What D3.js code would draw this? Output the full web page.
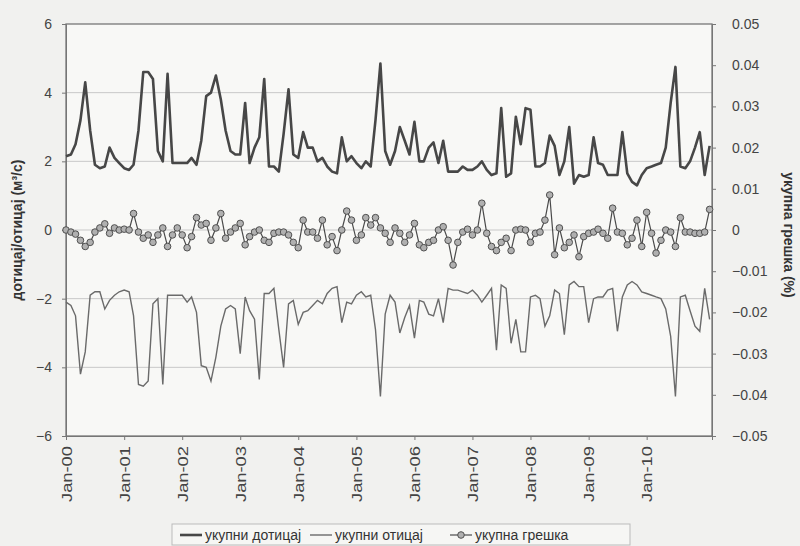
<!DOCTYPE html>
<html><head><meta charset="utf-8">
<script src="https://cdn.jsdelivr.net/npm/d3@7"></script>
<style>
html,body{margin:0;padding:0;background:#f1f1ef;}
svg{display:block;font-family:"Liberation Sans",Arial,sans-serif;}
</style></head>
<body><svg id="c" width="800" height="546"></svg>
<script>
const inflow = [2.15,2.2,2.5,3.2,4.3,2.9,1.9,1.8,1.85,2.4,2.1,1.95,1.8,1.75,1.9,2.9,4.6,4.6,4.4,2.3,
2.0,4.55,1.95,1.95,1.95,1.95,2.1,1.9,2.6,3.9,4.0,4.5,3.8,2.9,2.3,2.2,2.2,3.7,1.95,2.4,
2.7,4.4,1.85,1.85,1.7,2.8,4.1,2.2,2.1,2.85,2.4,2.4,2.0,2.1,1.85,1.7,1.65,2.7,2.0,2.15,
1.95,1.8,2.0,1.85,3.2,4.85,2.3,1.9,2.3,3.0,2.6,2.2,3.15,2.0,2.0,2.4,2.55,1.95,2.6,1.7,
1.7,1.7,1.85,1.75,1.75,1.85,2.0,1.75,1.6,1.65,3.55,1.55,1.65,3.3,2.5,3.55,3.5,1.85,1.85,1.95,
2.75,2.45,1.6,2.0,3.0,1.35,1.6,1.55,1.6,2.7,1.95,1.9,1.6,1.6,1.6,2.85,1.65,1.4,1.3,1.6,
1.8,1.85,1.9,1.95,2.4,3.7,4.75,1.85,1.8,2.0,2.4,2.85,1.6,2.45];
const outflow = [-2.1,-2.2,-2.5,-4.2,-3.55,-1.9,-1.8,-1.8,-2.3,-2.05,-1.9,-1.8,-1.75,-1.8,-2.5,-4.5,-4.55,-4.4,-2.15,-2.0,
-4.5,-1.9,-1.9,-1.9,-1.9,-2.1,-1.95,-2.4,-3.95,-4.0,-4.4,-3.7,-2.8,-2.3,-2.2,-2.3,-3.6,-1.95,-2.35,-2.6,
-4.35,-1.85,-1.85,-1.7,-2.9,-4.0,-2.15,-2.05,-2.75,-2.4,-2.35,-2.2,-2.05,-2.15,-1.85,-1.7,-1.65,-2.7,-2.1,-2.15,
-1.9,-1.8,-1.95,-1.9,-2.9,-4.85,-2.45,-1.9,-2.1,-3.0,-2.55,-2.2,-3.15,-2.05,-2.1,-2.45,-2.5,-2.0,-2.7,-1.7,
-1.75,-1.75,-1.8,-1.85,-1.75,-1.9,-2.1,-1.9,-1.7,-3.5,-1.6,-1.7,-3.3,-2.6,-3.55,-3.55,-1.95,-1.9,-2.0,-2.8,
-2.5,-1.75,-1.85,-3.05,-1.6,-1.5,-1.65,-1.65,-2.7,-2.0,-1.95,-1.95,-1.75,-1.7,-2.95,-1.95,-1.6,-1.5,-1.6,-1.8,
-1.85,-1.9,-1.95,-2.0,-2.3,-3.1,-4.85,-1.95,-1.9,-2.35,-2.8,-2.95,-1.7,-2.6];
const errorPct = [0,-0.0005,-0.001,-0.0025,-0.004,-0.003,-0.0005,0.0005,0.0015,-0.0008,0.0005,0,0.0002,0,0.004,-0.0005,-0.002,-0.0012,-0.003,-0.0012,
0.0005,-0.004,-0.0012,0.0005,-0.0012,-0.0043,-0.0016,0.003,0.0012,0.0016,-0.0025,0.0005,0.004,-0.002,-0.0005,0.0005,0.0016,-0.0036,-0.0016,-0.0005,
0,-0.0025,-0.003,-0.0008,-0.0005,-0.0005,-0.0012,-0.003,-0.0043,0.0024,-0.0005,-0.0005,-0.002,0.0024,-0.0036,-0.0016,-0.005,0,0.0046,0.0024,
-0.0025,-0.0012,0.003,0.0012,0.003,0.0005,-0.0008,-0.003,0.0005,-0.0008,-0.003,-0.0012,0.0016,-0.0036,-0.0043,-0.003,-0.0025,0,0.0008,-0.0025,
-0.0085,-0.003,-0.0005,0.0002,-0.0012,0,0.0065,-0.0008,-0.004,-0.005,-0.003,-0.002,-0.005,0,0.0002,0,-0.003,-0.0008,-0.0005,0.0024,
0.0085,-0.006,0.0005,-0.0043,-0.003,-0.0012,-0.0065,-0.0016,-0.0008,-0.0005,0.0002,-0.0008,-0.002,0.0053,-0.0005,-0.0008,-0.0036,-0.002,0.0024,-0.004,
0.0043,-0.0008,-0.0056,-0.0025,0,-0.0005,-0.004,0.003,-0.0005,-0.0005,-0.0008,-0.0008,-0.0005,0.005];
const leftTicks = [-6,-4,-2,0,2,4,6];
const rightTicks = [-0.05,-0.04,-0.03,-0.02,-0.01,0,0.01,0.02,0.03,0.04,0.05];
const xTickLabels = ["Jan-00","Jan-01","Jan-02","Jan-03","Jan-04","Jan-05","Jan-06","Jan-07","Jan-08","Jan-09","Jan-10"];
const seriesNames = ["укупни дотицај","укупни отицај","укупна грешка"];
const leftTitle = "дотицај/отицај (м³/с)";
const rightTitle = "укупна грешка (%)";

const months = d3.range(inflow.length).map(i => new Date(2000, i, 1));
const L = 66, R = 712, T = 24, B = 436;
const svg = d3.select("#c");
const x = d3.scaleTime().domain([months[0], new Date(2011, 1, 16)]).range([L, R]);
const yL = d3.scaleLinear().domain([-6, 6]).range([B, T]);
const yR = d3.scaleLinear().domain([-0.05, 0.05]).range([B, T]);

svg.append("rect").attr("x", L).attr("y", T).attr("width", R-L).attr("height", B-T).attr("fill", "#f8f8f6");
svg.append("g").selectAll("line").data(leftTicks.filter(d => d > -6 && d < 6)).join("line")
  .attr("x1", L).attr("x2", R).attr("y1", d => yL(d)).attr("y2", d => yL(d))
  .attr("stroke", "#c8c8c8").attr("stroke-width", 1);

const tickColor = "#444";
const gl = svg.append("g").attr("transform", `translate(${L},0)`)
  .call(d3.axisLeft(yL).tickValues(leftTicks).tickSize(4).tickFormat(d3.format("d")));
const fmtR = d => d === 0 ? "0" : d3.format(".2f")(d);
const gr = svg.append("g").attr("transform", `translate(${R},0)`)
  .call(d3.axisRight(yR).tickValues(rightTicks).tickSize(4).tickFormat(fmtR));
const xTickDates = xTickLabels.map((s, i) => new Date(2000 + i, 0, 1));
const gb = svg.append("g").attr("transform", `translate(0,${B})`)
  .call(d3.axisBottom(x).tickValues(xTickDates).tickSize(4).tickFormat((d, i) => xTickLabels[i]));
[gl, gr, gb].forEach(g => {
  g.select(".domain").attr("stroke", "#777");
  g.selectAll(".tick line").attr("stroke", "#777");
  g.selectAll("text").attr("fill", tickColor).attr("font-size", 14)
    .attr("font-family", "'Liberation Sans', Arial, sans-serif");
});
gb.selectAll("text").attr("transform", "rotate(-90)").attr("text-anchor", "end")
  .attr("x", -10).attr("y", 0).attr("dy", "0.35em").attr("font-size", 15)
  .attr("textLength", 56).attr("lengthAdjust", "spacingAndGlyphs");
gl.selectAll("text").attr("x", -14);
gr.selectAll("text").attr("x", 20);
svg.append("rect").attr("x", L).attr("y", T).attr("width", R-L).attr("height", B-T)
  .attr("fill", "none").attr("stroke", "#777").attr("stroke-width", 1.3);

const lineL = d3.line().x((d, i) => x(months[i])).y(d => yL(d));
const lineR = d3.line().x((d, i) => x(months[i])).y(d => yR(d));
svg.append("path").datum(outflow).attr("d", lineL).attr("fill", "none")
  .attr("stroke", "#6a6a6a").attr("stroke-width", 1.4);
svg.append("path").datum(inflow).attr("d", lineL).attr("fill", "none")
  .attr("stroke", "#474747").attr("stroke-width", 2.6).attr("stroke-linejoin", "round");
svg.append("path").datum(errorPct).attr("d", lineR).attr("fill", "none")
  .attr("stroke", "#4a4a4a").attr("stroke-width", 1.2);
svg.append("g").selectAll("circle").data(errorPct).join("circle")
  .attr("cx", (d, i) => x(months[i])).attr("cy", d => yR(d)).attr("r", 3.3)
  .attr("fill", "#b0b0b0").attr("stroke", "#505050").attr("stroke-width", 1);

svg.append("text").attr("transform", `translate(22,${(T+B)/2}) rotate(-90)`)
  .attr("text-anchor", "middle").attr("font-size", 14).attr("font-weight", "bold").attr("fill", "#333")
  .text(leftTitle);
svg.append("text").attr("transform", `translate(784,${(T+B)/2 + 5}) rotate(90)`)
  .attr("text-anchor", "middle").attr("font-size", 14).attr("font-weight", "bold").attr("fill", "#333")
  .text(rightTitle);

const lg = svg.append("g");
lg.append("rect").attr("x", 172).attr("y", 524).attr("width", 458).attr("height", 21)
  .attr("fill", "#f6f6f4").attr("stroke", "#bbb");
const items = [
  {x: 180, w: 2.6, c: "#474747", m: false},
  {x: 310, w: 1.4, c: "#6a6a6a", m: false},
  {x: 450, w: 1.2, c: "#4a4a4a", m: true}
];
items.forEach((it, i) => {
  lg.append("line").attr("x1", it.x).attr("x2", it.x + 22).attr("y1", 535).attr("y2", 535)
    .attr("stroke", it.c).attr("stroke-width", it.w);
  if (it.m) lg.append("circle").attr("cx", it.x + 11).attr("cy", 535).attr("r", 3.3)
    .attr("fill", "#b0b0b0").attr("stroke", "#505050");
  lg.append("text").attr("x", it.x + 25).attr("y", 535).attr("dy", "0.35em")
    .attr("font-size", 14).attr("fill", "#333").text(seriesNames[i]);
});
</script></body></html>
